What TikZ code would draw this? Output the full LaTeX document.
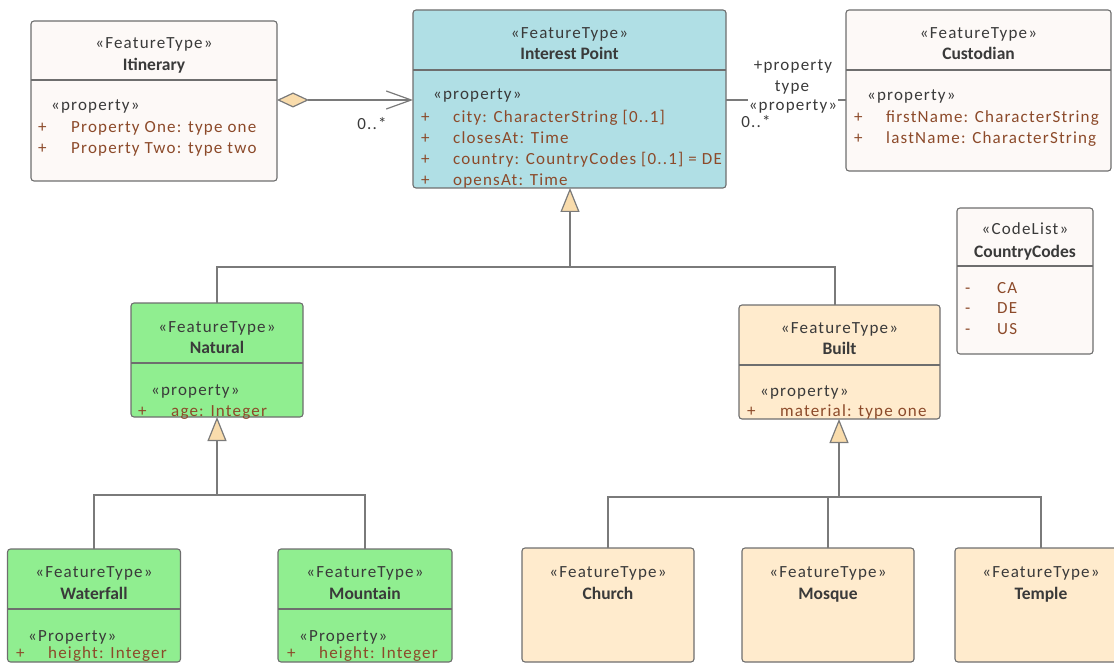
\documentclass[tikz,border=0pt]{standalone}
\usepackage{fontspec}
\setmainfont{Carlito}
\newfontfamily\lsfont{Carlito}[LetterSpace=7]
\usetikzlibrary{arrows.meta}
\definecolor{boxDraw}{HTML}{6E6E6E}
\definecolor{ipFill}{HTML}{B0DFE5}
\definecolor{greenFill}{HTML}{90EE90}
\definecolor{builtFill}{HTML}{FFEBCD}
\definecolor{paleFill}{HTML}{FDF9F7}
\definecolor{triFill}{HTML}{F9DCAC}
\definecolor{textDark}{HTML}{3A3A3A}
\definecolor{propBrown}{HTML}{8C4A2A}
\definecolor{lineGray}{HTML}{7A7A7A}
\begin{document}
\begin{tikzpicture}[x=1pt,y=-1pt,
  box/.style={draw=boxDraw, line width=1.1pt, rounded corners=3pt, anchor=north west, inner sep=0pt, outer sep=0pt},
  div/.style={draw=boxDraw, line width=1.1pt},
  stereo/.style={anchor=base, inner sep=0pt, yshift=-1.5pt, text=textDark, font=\fontsize{17}{20}\selectfont\lsfont},
  title/.style={anchor=base, inner sep=0pt, yshift=-1.5pt, text=textDark, font=\fontsize{17.5}{20}\selectfont\bfseries},
  propst/.style={anchor=base west, inner sep=0pt, yshift=-1pt, text=textDark, font=\fontsize{17}{20}\selectfont\lsfont},
  vis/.style={anchor=base west, inner sep=0pt, yshift=-1pt, text=propBrown, font=\fontsize{17}{20}\selectfont},
  attr/.style={anchor=base west, inner sep=0pt, yshift=-1pt, text=propBrown, font=\fontsize{17}{20}\selectfont\lsfont},
  lbl/.style={anchor=base, inner sep=0pt, text=textDark, font=\fontsize{17}{20}\selectfont\lsfont},
  conn/.style={draw=lineGray, line width=1.2pt},
  gen/.style={conn, -{Triangle[length=24pt,width=19pt,fill=triFill]}}
]
\useasboundingbox (0,0) rectangle (1114,663);
\clip (0,0) rectangle (1114,663);

% ---------- boxes ----------
\node[box, fill=paleFill, minimum width=246pt, minimum height=160pt] (itin) at (31,21) {};
\node[box, fill=ipFill, minimum width=313pt, minimum height=178pt] (ip) at (413,10) {};
\node[box, fill=paleFill, minimum width=265pt, minimum height=161pt] (cust) at (846,10) {};
\node[box, fill=paleFill, minimum width=136pt, minimum height=146pt] (cc) at (957,208) {};
\node[box, fill=greenFill, minimum width=172pt, minimum height=114pt] (nat) at (131,303) {};
\node[box, fill=builtFill, minimum width=201pt, minimum height=114pt] (built) at (739,305) {};
\node[box, fill=greenFill, minimum width=173pt, minimum height=113pt] (wf) at (7.5,549) {};
\node[box, fill=greenFill, minimum width=174pt, minimum height=113pt] (mt) at (278,549) {};
\node[box, fill=builtFill, minimum width=172pt, minimum height=114pt] (ch) at (522,548) {};
\node[box, fill=builtFill, minimum width=172pt, minimum height=114pt] (mq) at (742,548) {};
\node[box, fill=builtFill, minimum width=172pt, minimum height=114pt] (tp) at (955,548) {};

% ---------- dividers ----------
\draw[div] (itin.west |- 0,80) -- (itin.east |- 0,80);
\draw[div] (ip.west |- 0,70) -- (ip.east |- 0,70);
\draw[div] (cust.west |- 0,70) -- (cust.east |- 0,70);
\draw[div] (cc.west |- 0,266) -- (cc.east |- 0,266);
\draw[div] (nat.west |- 0,363) -- (nat.east |- 0,363);
\draw[div] (built.west |- 0,365) -- (built.east |- 0,365);
\draw[div] (wf.west |- 0,609) -- (wf.east |- 0,609);
\draw[div] (mt.west |- 0,609) -- (mt.east |- 0,609);

% ---------- Itinerary ----------
\node[stereo] (itinS) at (154,47) {«FeatureType»};
\node[title] (itinT) at (154,69) {Itinerary};
\node[propst] (itinP) at (51,110) {«property»};
\node[vis] (itinV1) at (38,131.5) {+};
\node[attr] (itinA1) at (71,131.5) {Property One: type one};
\node[vis] (itinV2) at (38,153) {+};
\node[attr] (itinA2) at (71,153) {Property Two: type two};

% ---------- Interest Point ----------
\node[stereo] (ipS) at (569.5,37) {«FeatureType»};
\node[title] (ipT) at (569.5,58) {Interest Point};
\node[propst] (ipP) at (433,99) {«property»};
\node[vis] (ipV1) at (421,122) {+};
\node[attr] (ipA1) at (453,122) {city: CharacterString [0..1]};
\node[vis] (ipV2) at (421,143) {+};
\node[attr] (ipA2) at (453,143) {closesAt: Time};
\node[vis] (ipV3) at (421,164) {+};
\node[attr] (ipA3) at (453,164) {country: CountryCodes [0..1] = DE};
\node[vis] (ipV4) at (421,185) {+};
\node[attr] (ipA4) at (453,185) {opensAt: Time};

% ---------- Custodian ----------
\node[stereo] (custS) at (978.5,37) {«FeatureType»};
\node[title] (custT) at (978.5,58) {Custodian};
\node[propst] (custP) at (867,100) {«property»};
\node[vis] (custV1) at (854,122) {+};
\node[attr] (custA1) at (886,122) {firstName: CharacterString};
\node[vis] (custV2) at (854,143) {+};
\node[attr] (custA2) at (886,143) {lastName: CharacterString};

% ---------- CountryCodes ----------
\node[stereo] (ccS) at (1025,233) {«CodeList»};
\node[title] (ccT) at (1025,256) {CountryCodes};
\node[vis] (ccV1) at (965,292) {-};
\node[attr] (ccA1) at (997,292) {CA};
\node[vis] (ccV2) at (965,312.5) {-};
\node[attr] (ccA2) at (997,312.5) {DE};
\node[vis] (ccV3) at (965,333) {-};
\node[attr] (ccA3) at (997,333) {US};

% ---------- Natural ----------
\node[stereo] (natS) at (217,331) {«FeatureType»};
\node[title] (natT) at (217,352) {Natural};
\node[propst] (natP) at (151,394) {«property»};
\node[vis] (natV1) at (138,415) {+};
\node[attr] (natA1) at (171,415) {age: Integer};

% ---------- Built ----------
\node[stereo] (builtS) at (839.5,332) {«FeatureType»};
\node[title] (builtT) at (839.5,353) {Built};
\node[propst] (builtP) at (760,395) {«property»};
\node[vis] (builtV1) at (747,415) {+};
\node[attr] (builtA1) at (780,415) {material: type one};

% ---------- Waterfall / Mountain ----------
\node[stereo] (wfS) at (94,576) {«FeatureType»};
\node[title] (wfT) at (94,598) {Waterfall};
\node[propst] (wfP) at (28,640) {«Property»};
\node[vis, yshift=1pt] (wfV1) at (16,658) {+};
\node[attr, yshift=1pt] (wfA1) at (48,658) {height: Integer};
\node[stereo] (mtS) at (365,576) {«FeatureType»};
\node[title] (mtT) at (365,598) {Mountain};
\node[propst] (mtP) at (299,640) {«Property»};
\node[vis, yshift=1pt] (mtV1) at (287,658) {+};
\node[attr, yshift=1pt] (mtA1) at (319,658) {height: Integer};

% ---------- Church / Mosque / Temple ----------
\node[stereo] (chS) at (608,576) {«FeatureType»};
\node[title] (chT) at (608,598) {Church};
\node[stereo] (mqS) at (828,576) {«FeatureType»};
\node[title] (mqT) at (828,598) {Mosque};
\node[stereo] (tpS) at (1041,576) {«FeatureType»};
\node[title] (tpT) at (1041,598) {Temple};

% ---------- associations ----------
\coordinate (assocY) at (0,100);
\draw[conn, {Diamond[length=32pt,width=15pt,fill=triFill]}-{Straight Barb[length=25pt,width=18pt]}]
  (itin.east |- assocY) -- (ip.west |- assocY);
\node[lbl] (aggMult) at (372,130) {0..*};

\draw[conn] (ip.east |- assocY) -- (cust.west |- assocY);
\node[lbl] (rolePlus) at (793,71) {+property};
\node[lbl] (roleType) at (792,91.5) {type};
\node[lbl, fill=white, inner xsep=1pt, inner ysep=0.5pt] (roleSt) at (793,110.5) {«property»};
\node[lbl] (custMult) at (756,128) {0..*};

% ---------- generalizations ----------
\coordinate (ipBus) at (570,267);
\coordinate (builtTop) at (835,305);
\draw[conn] (nat.north) |- (ipBus);
\draw[conn] (builtTop) |- (ipBus);
\draw[gen] (ipBus) -- (ip.south -| ipBus);

\coordinate (natBus) at (217,495);
\draw[conn] (wf.north) |- (natBus);
\draw[conn] (mt.north) |- (natBus);
\draw[gen] (natBus) -- (nat.south);

\coordinate (builtBus) at (839,497);
\draw[conn] (ch.north) |- (builtBus);
\draw[conn] (mq.north) |- (builtBus);
\draw[conn] (tp.north) |- (builtBus);
\draw[gen] (builtBus) -- (built.south -| builtBus);
\end{tikzpicture}
\end{document}
